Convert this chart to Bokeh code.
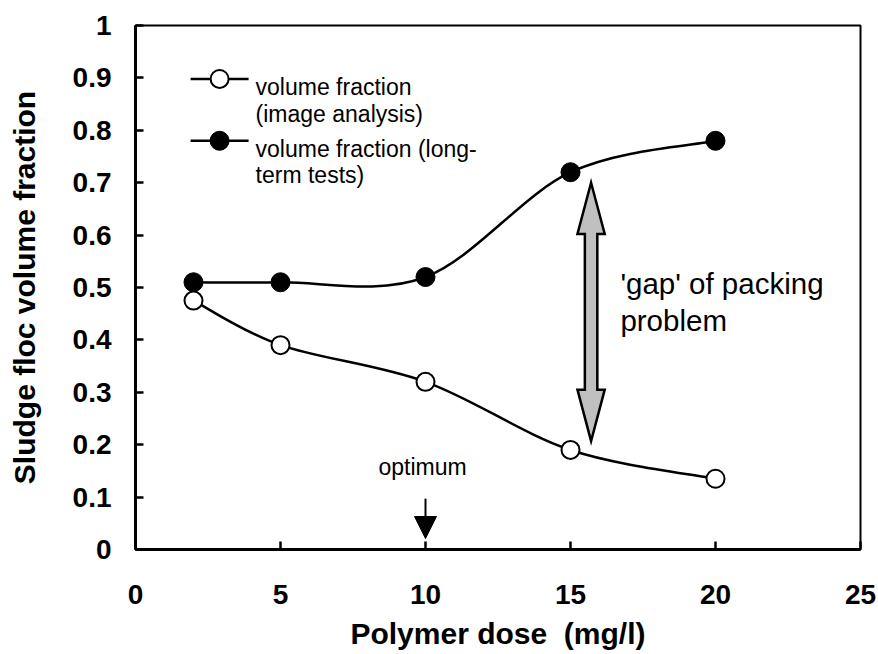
import math
from bokeh.plotting import figure
from bokeh.models import Range1d, FixedTicker, Arrow, NormalHead, ColumnDataSource
from bokeh.embed import file_html
from bokeh.resources import INLINE
from bokeh.core.properties import value

# ---------------- data ----------------
dose = [2, 5, 10, 15, 20]
vf_image = [0.475, 0.39, 0.32, 0.19, 0.135]
vf_longterm = [0.51, 0.51, 0.52, 0.72, 0.78]

x_ticks = [0, 5, 10, 15, 20, 25]
y_ticks = [0, 0.1, 0.2, 0.3, 0.4, 0.5, 0.6, 0.7, 0.8, 0.9, 1.0]
y_tick_labels = ["0", "0.1", "0.2", "0.3", "0.4", "0.5", "0.6", "0.7", "0.8", "0.9", "1"]

x_title = "Polymer dose\u00a0 (mg/l)"
y_title = "Sludge floc volume fraction"
legend_image = ["volume fraction", "(image analysis)"]
legend_long = ["volume fraction (long-", "term tests)"]
gap_text = ["'gap' of packing", "problem"]
optimum_text = "optimum"

FONT = "Liberation Sans"


def smooth_segments(xs, ys):
    """Cubic Bezier segments through the points (spreadsheet-style smoothing)."""
    n = len(xs)
    out = dict(x0=[], y0=[], x1=[], y1=[], cx0=[], cy0=[], cx1=[], cy1=[])
    for i in range(n - 1):
        xm, ym = (xs[i - 1], ys[i - 1]) if i > 0 else (xs[i], ys[i])
        xp2, yp2 = (xs[i + 2], ys[i + 2]) if i + 2 < n else (xs[i + 1], ys[i + 1])
        out["x0"].append(xs[i]); out["y0"].append(ys[i])
        out["x1"].append(xs[i + 1]); out["y1"].append(ys[i + 1])
        out["cx0"].append(xs[i] + (xs[i + 1] - xm) / 6.0)
        out["cy0"].append(ys[i] + (ys[i + 1] - ym) / 6.0)
        out["cx1"].append(xs[i + 1] - (xp2 - xs[i]) / 6.0)
        out["cy1"].append(ys[i + 1] - (yp2 - ys[i]) / 6.0)
    return out


p = figure(width=878, height=654, output_backend="svg", toolbar_location=None,
           x_range=Range1d(0, 25), y_range=Range1d(0, 1),
           min_border_left=135, min_border_right=18, min_border_top=25, min_border_bottom=105,
           x_axis_label=x_title, y_axis_label=y_title)
p.background_fill_color = "white"
p.border_fill_color = "white"
p.outline_line_color = "black"
p.outline_line_width = 2
p.xgrid.visible = False
p.ygrid.visible = False

for ax in (p.xaxis[0], p.yaxis[0]):
    ax.axis_line_width = 3
    ax.axis_line_color = "black"
    ax.major_tick_in = 8
    ax.major_tick_out = 0
    ax.major_tick_line_width = 2.5
    ax.minor_tick_line_color = None
    ax.major_label_text_font = FONT
    ax.major_label_text_font_style = "bold"
    ax.major_label_text_font_size = "28px"
    ax.major_label_text_color = "black"
    ax.axis_label_text_font = FONT
    ax.axis_label_text_font_style = "bold"
    ax.axis_label_text_font_size = "30px"
    ax.axis_label_text_color = "black"

p.xaxis.ticker = FixedTicker(ticks=x_ticks)
p.yaxis.ticker = FixedTicker(ticks=y_ticks)
p.yaxis.major_label_overrides = {t: l for t, l in zip(y_ticks, y_tick_labels)}
p.xaxis.major_label_standoff = 35
p.yaxis.major_label_standoff = 24
p.xaxis.axis_label_standoff = 10
p.yaxis.axis_label_standoff = 29

# smoothed curves
src_long = ColumnDataSource(smooth_segments(dose, vf_longterm))
src_img = ColumnDataSource(smooth_segments(dose, vf_image))
p.bezier(x0="x0", y0="y0", x1="x1", y1="y1", cx0="cx0", cy0="cy0", cx1="cx1", cy1="cy1",
         source=src_long, line_color="black", line_width=2.5)
p.bezier(x0="x0", y0="y0", x1="x1", y1="y1", cx0="cx0", cy0="cy0", cx1="cx1", cy1="cy1",
         source=src_img, line_color="black", line_width=2.5)

p.scatter(dose, vf_longterm, marker="circle", size=19, fill_color="black", line_color="black", line_width=1)
p.scatter(dose, vf_image, marker="circle", size=18, fill_color="white", line_color="black", line_width=2)

# legend (drawn manually)
leg_x0, leg_x1, leg_xm, leg_tx = 1.90, 3.90, 2.90, 4.14
leg_y1, leg_y2 = 0.898, 0.780
p.line([leg_x0, leg_x1], [leg_y1, leg_y1], line_color="black", line_width=2.5)
p.scatter([leg_xm], [leg_y1], marker="circle", size=18, fill_color="white", line_color="black", line_width=2)
p.line([leg_x0, leg_x1], [leg_y2, leg_y2], line_color="black", line_width=2.5)
p.scatter([leg_xm], [leg_y2], marker="circle", size=19, fill_color="black", line_color="black")
p.text(x=[leg_tx, leg_tx], y=[0.8817, 0.832], text=legend_image, text_font=value(FONT),
       text_font_size="23px", text_baseline="alphabetic", text_align="left", text_color="black")
p.text(x=[leg_tx, leg_tx], y=[0.765, 0.714], text=legend_long, text_font=value(FONT),
       text_font_size="23px", text_baseline="alphabetic", text_align="left", text_color="black")

# double arrow ('gap')
ax_c, ay_top, ay_bot = 15.71, 0.700, 0.207
shaft_hw, head_hw, head_len = 0.215, 0.47, 0.098
px = [ax_c, ax_c + head_hw, ax_c + shaft_hw, ax_c + shaft_hw, ax_c + head_hw, ax_c,
      ax_c - head_hw, ax_c - shaft_hw, ax_c - shaft_hw, ax_c - head_hw]
py = [ay_top, ay_top - head_len, ay_top - head_len, ay_bot + head_len, ay_bot + head_len, ay_bot,
      ay_bot + head_len, ay_bot + head_len, ay_top - head_len, ay_top - head_len]
p.patch(px, py, fill_color="#c0c0c0", line_color="black", line_width=2.5, line_join="miter")

p.text(x=[16.72, 16.72], y=[0.5076, 0.437], text=gap_text, text_font=value(FONT),
       text_font_size="29.5px", text_baseline="alphabetic", text_align="left", text_color="black")

# optimum arrow
p.text(x=[9.9], y=[0.1565], text=[optimum_text], text_font=value(FONT),
       text_font_size="23px", text_baseline="alphabetic", text_align="center", text_color="black")
p.add_layout(Arrow(x_start=10, y_start=0.097, x_end=10, y_end=0.021, line_width=2, line_color="black",
                   end=NormalHead(size=22, fill_color="black", line_color="black", line_width=1)))

open("out.html", "w").write(file_html(p, INLINE))
